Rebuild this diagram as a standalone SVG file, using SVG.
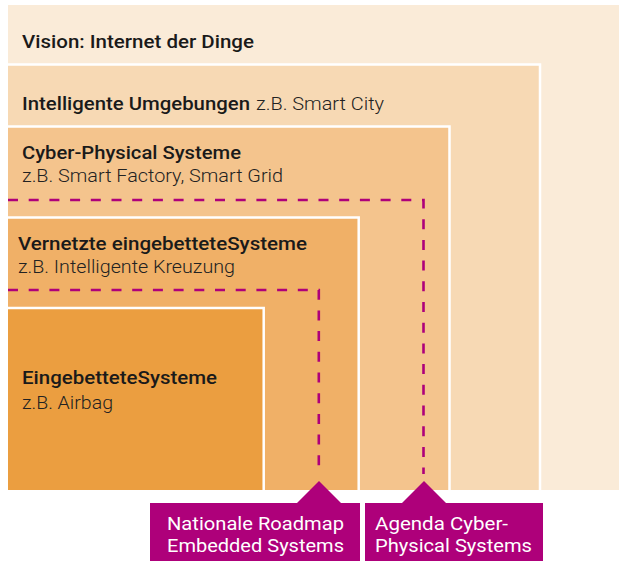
<svg xmlns="http://www.w3.org/2000/svg" width="619" height="561" viewBox="0 0 619 561">
<style>
.b{font-family:Roboto,"Liberation Sans",sans-serif;font-size:19px;font-weight:500;fill:#1a1a1a}
.r{font-family:Roboto,"Liberation Sans",sans-serif;font-size:19px;font-weight:300;fill:#222222}
.w{font-family:Roboto,"Liberation Sans",sans-serif;font-size:19px;font-weight:400;fill:#ffffff}
.edge{fill:none;stroke:#ffffff;stroke-width:2.5}
.dash{fill:none;stroke:#ae007a;stroke-width:2.6;stroke-dasharray:10 10.7}
.mag{fill:#ae007a}
</style>
<rect width="619" height="561" fill="#ffffff"/>
<g id="vision">
<rect x="8" y="5" width="611" height="485" fill="#faebd8"/>
<text class="b" x="22" y="47.5" textLength="232" lengthAdjust="spacingAndGlyphs">Vision: Internet der Dinge</text>
</g>
<g id="umgebungen">
<rect x="8" y="64.5" width="532" height="425.5" fill="#f7d9b4"/>
<path class="edge" d="M8 64.5H540V490"/>
<text class="b" x="22" y="110" textLength="228" lengthAdjust="spacingAndGlyphs">Intelligente Umgebungen</text>
<text class="r" x="256" y="110" textLength="128" lengthAdjust="spacingAndGlyphs">z.B. Smart City</text>
</g>
<g id="cps">
<rect x="8" y="126.5" width="441.5" height="363.5" fill="#f4c48d"/>
<path class="edge" d="M8 126.5H449.5V490"/>
<text class="b" x="22" y="159" textLength="219" lengthAdjust="spacingAndGlyphs">Cyber-Physical Systeme</text>
<text class="r" x="22" y="182" textLength="261" lengthAdjust="spacingAndGlyphs">z.B. Smart Factory, Smart Grid</text>
</g>
<g id="vernetzt">
<rect x="8" y="217.5" width="350.7" height="272.5" fill="#f0b067"/>
<path class="edge" d="M8 217.5H358.7V490"/>
<text class="b" x="18" y="250" textLength="289" lengthAdjust="spacingAndGlyphs">Vernetzte eingebetteteSysteme</text>
<text class="r" x="18" y="273.3" textLength="217" lengthAdjust="spacingAndGlyphs">z.B. Intelligente Kreuzung</text>
</g>
<g id="eingebettet">
<rect x="8" y="308" width="255.7" height="182" fill="#eb9e40"/>
<path class="edge" d="M8 308H263.7V490"/>
<text class="b" x="22" y="384" textLength="195" lengthAdjust="spacingAndGlyphs">EingebetteteSysteme</text>
<text class="r" x="22" y="409" textLength="91" lengthAdjust="spacingAndGlyphs">z.B. Airbag</text>
</g>
<g id="connectors">
<path class="dash" d="M8 200H423.5V474"/>
<path class="dash" d="M8 290H318.8V474"/>
</g>
<g id="label-roadmap">
<path class="mag" d="M319 481L341 503H360V561H150V503H297Z"/>
<text class="w" x="167" y="530" textLength="177" lengthAdjust="spacingAndGlyphs">Nationale Roadmap</text>
<text class="w" x="167" y="552" textLength="177" lengthAdjust="spacingAndGlyphs">Embedded Systems</text>
</g>
<g id="label-agenda">
<path class="mag" d="M424 481L446 503H543V561H365V503H402Z"/>
<text class="w" x="375" y="530" textLength="133" lengthAdjust="spacingAndGlyphs">Agenda Cyber-</text>
<text class="w" x="375" y="552" textLength="157" lengthAdjust="spacingAndGlyphs">Physical Systems</text>
</g>
</svg>
